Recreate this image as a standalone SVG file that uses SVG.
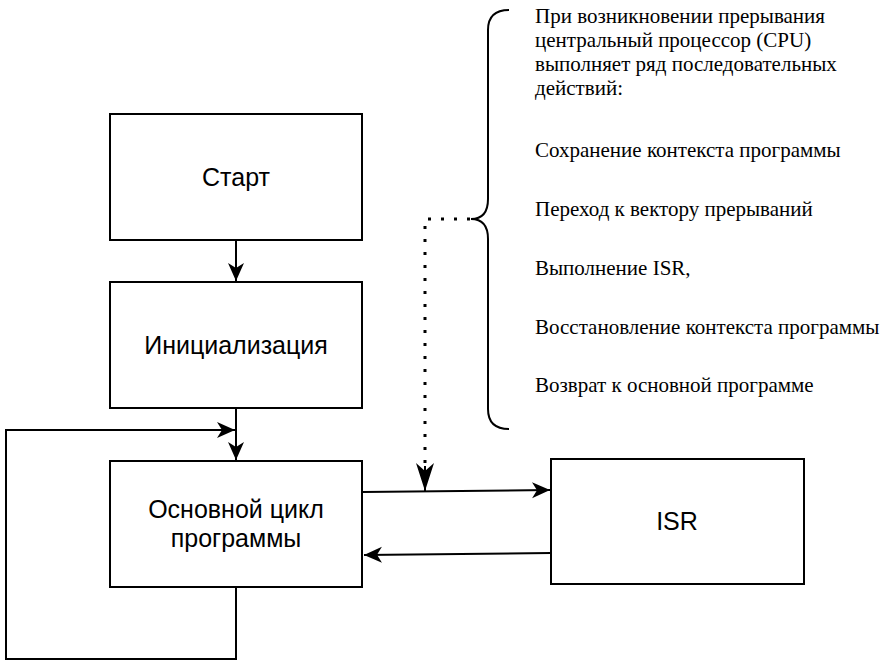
<svg xmlns="http://www.w3.org/2000/svg" width="886" height="666" viewBox="0 0 886 666">
<style>
.box{fill:#fff;stroke:#000;stroke-width:2}
.lbl{font-family:"Liberation Sans",Arial,Helvetica,sans-serif;font-size:25px;fill:#000;text-anchor:middle}
.note{font-family:"Liberation Serif","Times New Roman",serif;font-size:21px;fill:#000}
.edge{fill:none;stroke:#000;stroke-width:2}
.dot{fill:none;stroke:#000;stroke-width:3;stroke-dasharray:3 10}
</style>
<defs>
<marker id="ah" markerUnits="userSpaceOnUse" markerWidth="20" markerHeight="18" viewBox="0 0 20 18" refX="18" refY="9" orient="auto">
<path d="M0,1 L18,9 L0,17 L5,9 z" fill="#000"/>
</marker>
<marker id="ahd" markerUnits="userSpaceOnUse" markerWidth="30" markerHeight="20" viewBox="0 0 30 20" refX="28" refY="10" orient="auto">
<path d="M0,1 L28,10 L0,19 L8,10 z" fill="#000"/>
</marker>
</defs>
<rect width="886" height="666" fill="#fff"/>
<g id="connectors">
<path class="edge" d="M236,240 L236,281" marker-end="url(#ah)"/>
<path class="edge" d="M236,408 L236,460" marker-end="url(#ah)"/>
<path class="edge" d="M236,587 L236,659 L6,659 L6,430 L235,430" marker-end="url(#ah)"/>
<path class="edge" d="M363,492 L550,490" marker-end="url(#ah)"/>
<path class="edge" d="M551,553 L364,555" marker-end="url(#ah)"/>
<path class="dot" d="M470,219 L425,219 L425,466"/>
<path class="edge" d="M425,466 L425,491" marker-end="url(#ahd)"/>
</g>
<g id="start"><rect class="box" x="110" y="114" width="252" height="126"/><text class="lbl" x="236" y="186">Старт</text></g>
<g id="init"><rect class="box" x="110" y="282" width="252" height="126"/><text class="lbl" x="236" y="354">Инициализация</text></g>
<g id="main"><rect class="box" x="110" y="461" width="252" height="126"/><text class="lbl" x="236" y="518">Основной цикл</text><text class="lbl" x="236" y="547">программы</text></g>
<g id="isr"><rect class="box" x="551" y="459" width="253" height="125"/><text class="lbl" x="677" y="530">ISR</text></g>
<g id="brace"><path class="edge" d="M509,10 Q488,10 488,30 L488,199 Q488,219 471,219 Q488,219 488,239 L488,409 Q488,429 509,429"/></g>
<g id="note">
<text class="note" x="535" y="23">При возникновении прерывания</text>
<text class="note" x="535" y="47">центральный процессор (CPU)</text>
<text class="note" x="535" y="71">выполняет ряд последовательных</text>
<text class="note" x="535" y="95">действий:</text>
<text class="note" x="535" y="157">Сохранение контекста программы</text>
<text class="note" x="535" y="216">Переход к вектору прерываний</text>
<text class="note" x="535" y="275">Выполнение ISR,</text>
<text class="note" x="535" y="334">Восстановление контекста программы</text>
<text class="note" x="535" y="392">Возврат к основной программе</text>
</g>
</svg>
